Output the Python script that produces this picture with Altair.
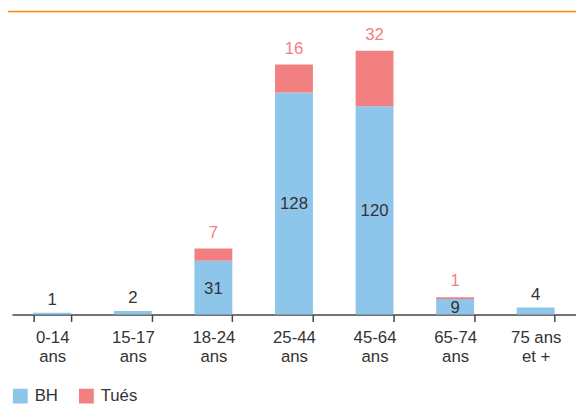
import altair as alt
import pandas as pd

categories = ["0-14|ans", "15-17|ans", "18-24|ans", "25-44|ans", "45-64|ans", "65-74|ans", "75 ans|et +"]
bh = [1, 2, 31, 128, 120, 9, 4]
tues = [0, 0, 7, 16, 32, 1, 0]
series = ["BH", "Tués"]
colors = ["#8EC5EA", "#F38080"]

wide = pd.DataFrame({"cat": categories, "BH": bh, "Tues": tues})
long = pd.DataFrame({
    "cat": categories * 2,
    "serie": [series[0]] * len(categories) + [series[1]] * len(categories),
    "value": bh + tues,
    "ord": [0] * len(categories) + [1] * len(categories),
})
long = long[long["value"] > 0]

FONT = "Liberation Sans"
TXT = "#333333"

x_enc = alt.X(
    "cat:N",
    sort=categories,
    scale=alt.Scale(paddingInner=0.53, paddingOuter=0.265),
    axis=alt.Axis(
        title=None,
        labelAngle=0,
        labelExpr="isValid(datum.value) ? split(datum.value, '|') : ''",
        labelFontSize=17,
        labelColor=TXT,
        labelFont=FONT,
        labelLineHeight=20,
        labelPadding=8,
        tickBand="extent",
        tickSize=7,
        tickColor="#444444",
        tickWidth=1.5,
        domainColor="#444444",
        domainWidth=1.5,
    ),
)
y_scale = alt.Scale(domain=[0, 175])

bars = alt.Chart(long).mark_bar().encode(
    x=x_enc,
    y=alt.Y("value:Q", stack="zero", scale=y_scale, axis=None),
    color=alt.Color(
        "serie:N",
        scale=alt.Scale(domain=series, range=colors),
        legend=alt.Legend(
            title=None,
            orient="none",
            legendX=0,
            legendY=382,
            direction="horizontal",
            symbolType="square",
            symbolSize=225,
            symbolStrokeWidth=0,
            symbolOpacity=1,
            labelFontSize=17,
            labelFont=FONT,
            labelColor=TXT,
            labelOffset=6,
            columnPadding=20,
            padding=0,
        ),
    ),
    order=alt.Order("ord:Q"),
)

base = alt.Chart(wide)

inside = base.transform_filter("datum.BH >= 9").transform_calculate(
    mid="datum.BH / 2"
).mark_text(baseline="middle", dy=1, fontSize=17, font=FONT, color=TXT).encode(
    x=alt.X("cat:N", sort=categories),
    y=alt.Y("mid:Q", scale=y_scale, axis=None),
    text="BH:Q",
)

outside = base.transform_filter("datum.BH < 9").mark_text(
    baseline="alphabetic", dy=-8, fontSize=17, font=FONT, color=TXT
).encode(
    x=alt.X("cat:N", sort=categories),
    y=alt.Y("BH:Q", scale=y_scale, axis=None),
    text="BH:Q",
)

tues_lab = base.transform_filter("datum.Tues > 0").transform_calculate(
    top="datum.BH + datum.Tues"
).mark_text(baseline="alphabetic", dy=-11, fontSize=17, font=FONT, color="#F38080").encode(
    x=alt.X("cat:N", sort=categories),
    y=alt.Y("top:Q", scale=y_scale, axis=None),
    text="Tues:Q",
)

band = alt.Chart(pd.DataFrame({"a": [0]})).mark_rect(color="#F7841F").encode(
    x=alt.value(-4), x2=alt.value(572), y=alt.value(0), y2=alt.value(1.5)
)
band2 = alt.Chart(pd.DataFrame({"a": [0]})).mark_rect(color="#FDD9B5").encode(
    x=alt.value(-4), x2=alt.value(572), y=alt.value(1.5), y2=alt.value(2.5)
)

chart = alt.layer(bars, inside, outside, tues_lab, band, band2).properties(
    width=572,
    height=308,
    autosize=alt.AutoSizeParams(type="none"),
    padding={"left": 4, "top": 0, "right": 0, "bottom": 96},
).configure(font=FONT).configure_view(stroke=None)

chart.save("out.html", embed_options={"renderer": "svg", "actions": False})
